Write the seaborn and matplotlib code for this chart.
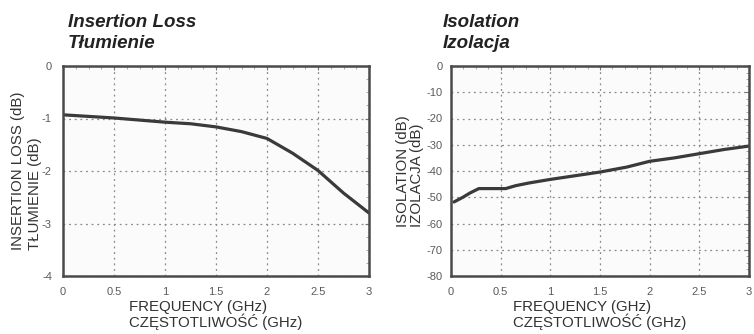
import numpy as np
import pandas as pd
import matplotlib
matplotlib.use("Agg")
import matplotlib.pyplot as plt
import seaborn as sns
from matplotlib.ticker import MultipleLocator

# Data
il_freq = [0.0, 0.25, 0.5, 0.75, 1.0, 1.25, 1.5, 1.75, 2.0, 2.25, 2.5, 2.75, 3.0]
il_db = [-0.93, -0.96, -0.99, -1.03, -1.07, -1.10, -1.16, -1.25, -1.38, -1.66, -1.99, -2.42, -2.80]

iso_freq = [0.03, 0.12, 0.19, 0.28, 0.40, 0.55, 0.65, 0.78, 1.0, 1.25, 1.5, 1.77, 2.0, 2.25, 2.5, 2.75, 3.0]
iso_db = [-51.8, -50.0, -48.4, -46.7, -46.7, -46.7, -45.6, -44.6, -43.2, -41.8, -40.4, -38.5, -36.3, -35.0, -33.4, -31.8, -30.5]

x_ticks = [0, 0.5, 1, 1.5, 2, 2.5, 3]
x_tick_labels = ["0", "0.5", "1", "1.5", "2", "2.5", "3"]
il_yticks = [0, -1, -2, -3, -4]
iso_yticks = [0, -10, -20, -30, -40, -50, -60, -70, -80]

sns.set_theme(style="white")
plt.rcParams["font.family"] = ["Liberation Sans", "DejaVu Sans"]

W, H = 754, 334
fig = plt.figure(figsize=(W / 100, H / 100), dpi=100)
fig.patch.set_facecolor("white")

ax1 = fig.add_axes([63 / W, (H - 276) / H, (369 - 63) / W, (276 - 66) / H])
ax2 = fig.add_axes([451 / W, (H - 276) / H, (749 - 451) / W, (276 - 66) / H])

df_il = pd.DataFrame({"f": il_freq, "v": il_db})
df_iso = pd.DataFrame({"f": iso_freq, "v": iso_db})

line_col = "#3a3a3a"
sns.lineplot(data=df_il, x="f", y="v", ax=ax1, color=line_col, linewidth=2.3)
sns.lineplot(data=df_iso, x="f", y="v", ax=ax2, color=line_col, linewidth=2.3)

def style(ax, yticks, ylim, ylabel, ypad, lpad, lspace):
    ax.set_xlim(0, 3)
    ax.set_ylim(*ylim)
    ax.set_xticks(x_ticks)
    ax.set_xticklabels(x_tick_labels)
    ax.set_yticks(yticks)
    ax.set_yticklabels([str(t) for t in yticks])
    ax.xaxis.set_minor_locator(MultipleLocator(0.125))
    ax.grid(True, which="major", linestyle=(0, (1.5, 3)), color="#8a8a8a", linewidth=0.9)
    ax.set_facecolor("#fbfbfb")
    for s in ax.spines.values():
        s.set_color("#4a4a4a")
        s.set_linewidth(1.8)
    ax.tick_params(axis="both", which="major", direction="in", length=3, width=0.8,
                   colors="#777777", labelcolor="#5a5a5a", labelsize=8,
                   top=True, right=True, pad=8)
    ax.tick_params(axis="y", which="major", pad=ypad)
    ax.tick_params(axis="both", which="minor", direction="in", length=2, width=0.6,
                   colors="#999999", top=True, right=True)
    ax.set_xlabel("FREQUENCY (GHz)\nCZĘSTOTLIWOŚĆ (GHz)", fontsize=10.8, color="#333333",
                  labelpad=2, linespacing=0.95, multialignment="left")
    ax.set_ylabel(ylabel, fontsize=10.8, color="#333333", labelpad=lpad,
                  linespacing=lspace, multialignment="left")

style(ax1, il_yticks, (-4, 0), "INSERTION LOSS (dB)\nTŁUMIENIE (dB)", 8, 0, 1.25)
ax1.yaxis.set_minor_locator(MultipleLocator(0.25))
style(ax2, iso_yticks, (-80, 0), "ISOLATION (dB)\nIZOLACJA (dB)", 6, 2, 0.95)
ax2.yaxis.set_minor_locator(MultipleLocator(2.5))

title_kw = dict(fontsize=13.5, fontweight="bold", fontstyle="italic", color="#222222",
                va="top", ha="left", linespacing=1.3)
fig.text(68 / W, 1 - 14 / H, "Insertion Loss\nTłumienie", **title_kw)
fig.text(443 / W, 1 - 14 / H, "Isolation\nIzolacja", **title_kw)

fig.savefig("out.png", dpi=100, facecolor="white")
